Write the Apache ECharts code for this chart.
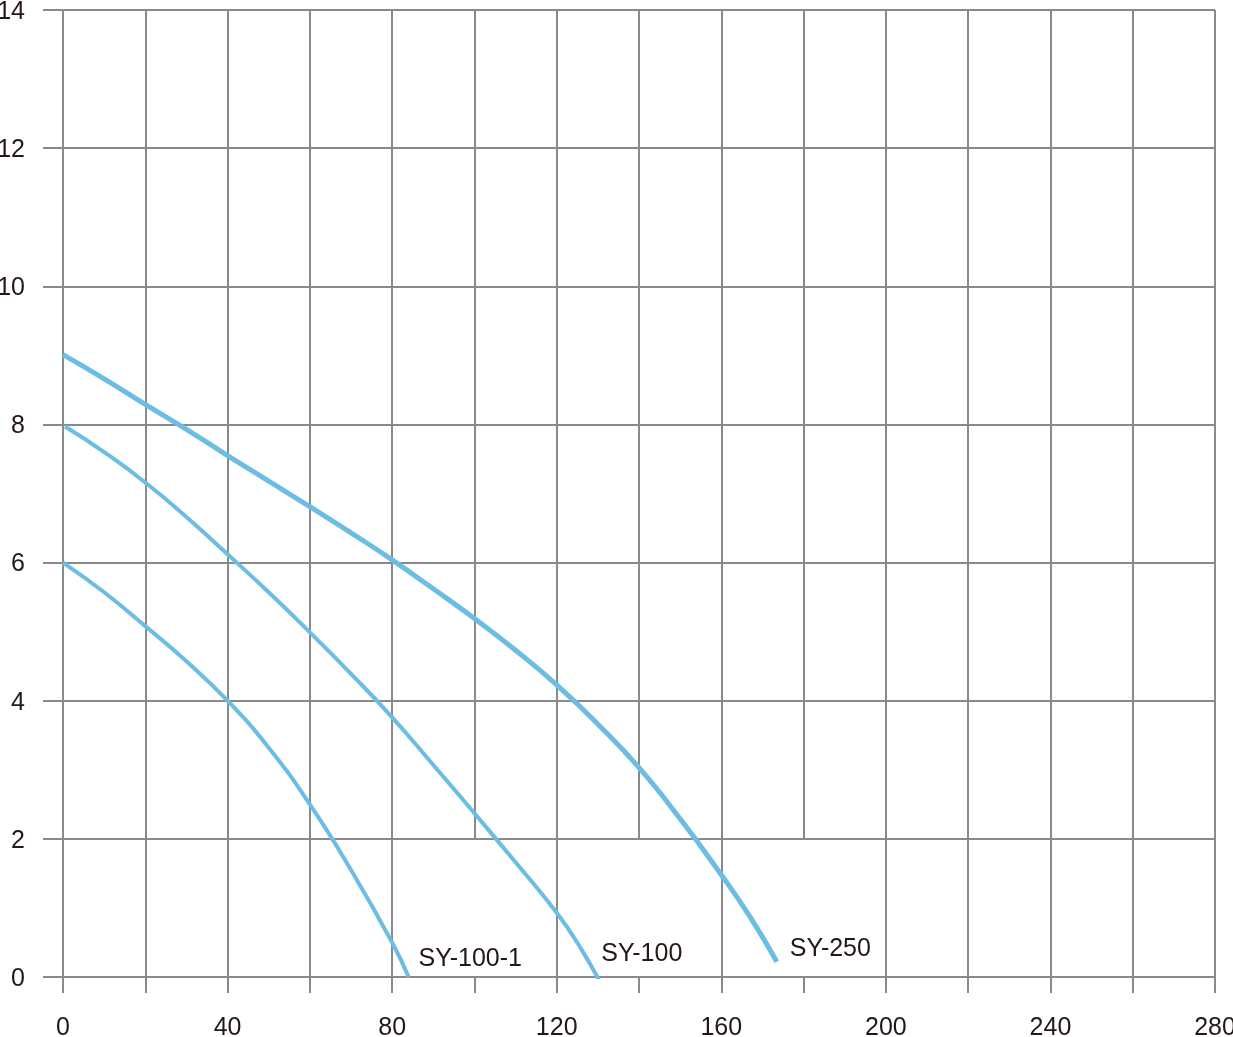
<!DOCTYPE html>
<html>
<head>
<meta charset="utf-8">
<script src="https://cdn.jsdelivr.net/npm/echarts@6/dist/echarts.min.js"></script>
<style>
html,body{margin:0;padding:0;background:#fff;}
#chart{width:1233px;height:1037px;}
</style>
</head>
<body>
<div id="chart"></div>
<script>
// ---- data ----
const seriesNames = ['SY-100-1', 'SY-100', 'SY-250'];
const sy100_1 = [[0,6.0],[10,5.57],[20,5.08],[30,4.57],[40,4.0],[50,3.32],[60,2.5],[70,1.55],[80,0.5],[84,0]];
const sy100 = [[0.5,7.97],[10,7.6],[20,7.16],[30,6.66],[40,6.12],[50,5.57],[60,4.99],[70,4.39],[80,3.76],[90,3.07],[100,2.37],[110,1.66],[120,0.93],[126,0.4],[131.3,-0.16]];
const sy250 = [[0,9.01],[10,8.66],[20,8.29],[30,7.93],[40,7.55],[50,7.18],[60,6.81],[70,6.43],[80,6.04],[90,5.62],[100,5.19],[110,4.73],[120,4.23],[130,3.66],[140,3.03],[150,2.29],[160,1.48],[167,0.87],[173.5,0.22]];
const xTicks = [0,20,40,60,80,100,120,140,160,180,200,220,240,260,280];
const xLabelTicks = [0,40,80,120,160,200,240,280];
const yTicks = [0,2,4,6,8,10,12,14];
const shortColumns = [100,140,180]; // vertical grid lines that stop at y=2

const gridColor = '#8a8a8a';
const curveColor = '#6cbde3';
const textColor = '#231815';
const font = '"Liberation Sans", Arial, sans-serif';

const vLines = xTicks.map(x => [
  {coord: [x, shortColumns.indexOf(x) >= 0 ? 2 : 0]},
  {coord: [x, 14]}
]);

const chart = echarts.init(document.getElementById('chart'));
function curve(name, data, width, offset) {
  return {
    name: name, type: 'line', data: data, smooth: true, showSymbol: false, symbol: 'none',
    lineStyle: {color: curveColor, width: width, cap: 'butt'}, z: 5,
    endLabel: {show: true, formatter: name, color: textColor, fontSize: 25, fontFamily: font, offset: offset, distance: 5}
  };
}
chart.setOption({
  animation: false,
  backgroundColor: '#fff',
  grid: {left: 63, right: 18, top: 10, bottom: 60, containLabel: false, outerBoundsMode: 'none'},
  xAxis: {
    type: 'value', min: 0, max: 280, interval: 20,
    axisLine: {show: false},
    axisTick: {show: true, length: 16, lineStyle: {color: gridColor, width: 2}},
    splitLine: {show: false},
    axisLabel: {
      margin: 39, fontSize: 25, color: textColor, fontFamily: font,
      formatter: v => xLabelTicks.indexOf(v) >= 0 ? String(v) : ''
    }
  },
  yAxis: {
    type: 'value', min: 0, max: 14, interval: 2,
    axisLine: {show: true, lineStyle: {color: '#a8a8a8', width: 2}},
    axisTick: {show: true, length: 20, lineStyle: {color: gridColor, width: 2}},
    splitLine: {show: true, lineStyle: {color: gridColor, width: 2}},
    axisLabel: {margin: 38, fontSize: 25, color: textColor, fontFamily: font,
      verticalAlign: 'top', lineHeight: 4,
      formatter: v => yTicks.indexOf(v) >= 0 ? String(v) : ''}
  },
  series: [
    {
      type: 'line', data: [], silent: true, z: 1,
      markLine: {silent: true, symbol: ['none','none'], animation: false, label: {show: false},
        lineStyle: {color: gridColor, width: 2, type: 'solid'}, data: vLines}
    },
    curve(seriesNames[0], sy100_1, 4, [5, -18]),
    curve(seriesNames[1], sy100, 4, [-7, -34]),
    curve(seriesNames[2], sy250, 5, [8, -13])
  ]
});
</script>
</body>
</html>
